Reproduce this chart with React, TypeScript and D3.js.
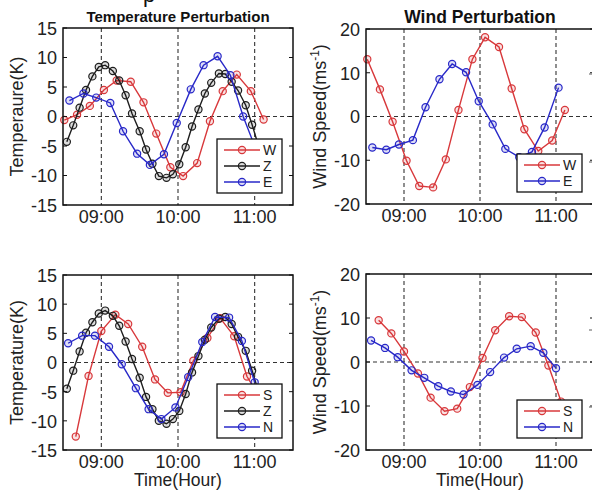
import React, { useEffect, useRef } from "react";
import * as d3 from "d3";

// sample times (clock) for each station series
const timesW = ["08:31", "08:41", "08:51", "09:02", "09:12", "09:23", "09:33", "09:43", "09:54", "10:04", "10:15", "10:25", "10:35", "10:46", "10:57", "11:07"];
const timesE = ["08:35", "08:46", "08:56", "09:07", "09:17", "09:28", "09:38", "09:49", "09:59", "10:10", "10:20", "10:31", "10:41", "10:51", "11:02"];
const timesZ = ["08:33", "08:38", "08:43", "08:48", "08:53", "08:58", "09:03", "09:09", "09:14", "09:19", "09:24", "09:30", "09:35", "09:40", "09:45", "09:51", "09:56", "10:01", "10:06", "10:11", "10:16", "10:21", "10:26", "10:32", "10:37", "10:42", "10:47", "10:53", "10:58", "11:03"];
const timesS = ["08:40", "08:50", "09:00", "09:11", "09:21", "09:32", "09:42", "09:52", "10:02", "10:12", "10:23", "10:33", "10:44", "10:54", "11:04"];
const timesN = ["08:34", "08:45", "08:55", "09:06", "09:16", "09:27", "09:37", "09:47", "09:58", "10:08", "10:19", "10:29", "10:40", "10:50", "11:00"];

// temperature perturbation (K)
const tempW = [-0.6, 0.3, 1.8, 4.5, 6.1, 5.9, 2.4, -2.9, -8.6, -10.1, -7.9, -0.8, 4.3, 7.1, 4.3, -0.5];
const tempZTop = [-4.3, -1.5, 1.5, 4.5, 6.8, 8.4, 8.7, 7.7, 6.1, 3.6, 0.5, -2.5, -5.6, -8.0, -10.1, -10.4, -9.8, -8.1, -5.2, -1.7, 1.2, 3.9, 5.7, 7.3, 7.2, 5.9, 4.4, 1.9, -1.4, -5.0];
const tempE = [2.7, 3.9, 3.2, 2.3, -2.5, -6.3, -8.2, -6.4, -1.1, 4.6, 8.7, 10.2, 7.0, 0.0, -6.1];
const tempS = [-12.7, -2.3, 5.4, 8.2, 6.6, 2.7, -2.9, -5.2, -5.1, 0.3, 4.2, 7.6, 4.5, -2.4, -6.0];
const tempZBottom = [-4.5, -1.4, 1.9, 5.1, 6.9, 8.4, 8.9, 8.0, 6.3, 3.6, 0.6, -2.6, -5.9, -8.0, -10.0, -10.5, -9.7, -8.3, -5.4, -1.7, 1.1, 3.9, 6.0, 7.5, 7.8, 6.6, 4.4, 2.0, -1.4, -5.0];
const tempN = [3.3, 4.6, 4.6, 2.7, -0.3, -4.4, -8.0, -9.7, -7.7, -2.5, 3.5, 7.8, 7.7, 3.7, -3.4];

// wind perturbation (m/s)
const windW = [13.1, 6.2, -1.2, -10.1, -15.9, -16.2, -9.8, 1.5, 13.1, 18.1, 15.9, 6.4, -2.9, -7.9, -5.5, 1.5];
const windE = [-7.1, -7.6, -6.4, -5.4, 2.1, 8.5, 12.0, 10.1, 3.5, -1.8, -7.4, -9.3, -8.1, -2.5, 6.6];
const windS = [9.5, 6.5, 2.4, -2.6, -8.1, -11.2, -10.6, -5.7, 0.9, 7.2, 10.4, 10.2, 6.7, -0.8, -9.0];
const windN = [4.9, 3.2, 1.1, -1.9, -3.6, -5.5, -6.7, -7.4, -5.2, -2.3, 1.0, 3.0, 3.6, 2.1, -1.4];

const tempTicks = [-15, -10, -5, 0, 5, 10, 15];
const windTicks = [-20, -10, 0, 10, 20];
const hourTicks = ["09:00", "10:00", "11:00"];
const timeRange = ["08:30", "11:30"];

const RED = "#d8383b";
const BLACK = "#1e1e1e";
const BLUE = "#2828c8";
const FONT = "'Liberation Sans', Arial, Helvetica, sans-serif";

const parseTime = d3.timeParse("%H:%M");

const App = () => {
    const container = useRef(null);

    useEffect(() => {
        const el = container.current;
        el.innerHTML = "";

        const svg = d3.select(el)
            .append("svg")
            .attr("width", 592)
            .attr("height", 493)
            .style("position", "absolute")
            .style("left", "0px")
            .style("top", "0px")
            .style("background", "#fff")
            .style("font-family", FONT);

        const panels = [
            {
                left: 63, right: 293, top: 28, bottom: 205,
                domain: [-15, 15], ticks: tempTicks,
                title: "Temperature Perturbation", titleSize: 15,
                ylabel: ["Temperaure(K)"], xlabel: null,
                series: [
                    { name: "W", times: timesW, values: tempW, color: RED },
                    { name: "Z", times: timesZ, values: tempZTop, color: BLACK },
                    { name: "E", times: timesE, values: tempE, color: BLUE },
                ],
            },
            {
                left: 366, right: 594, top: 29, bottom: 204,
                domain: [-20, 20], ticks: windTicks,
                title: "Wind Perturbation", titleSize: 17.5,
                ylabel: null, xlabel: null,
                series: [
                    { name: "W", times: timesW, values: windW, color: RED },
                    { name: "E", times: timesE, values: windE, color: BLUE },
                ],
            },
            {
                left: 63, right: 293, top: 275, bottom: 450,
                domain: [-15, 15], ticks: tempTicks,
                title: null, titleSize: 0,
                ylabel: ["Temperature(K)"], xlabel: "Time(Hour)",
                series: [
                    { name: "S", times: timesS, values: tempS, color: RED },
                    { name: "Z", times: timesZ, values: tempZBottom, color: BLACK },
                    { name: "N", times: timesN, values: tempN, color: BLUE },
                ],
            },
            {
                left: 366, right: 594, top: 274, bottom: 450,
                domain: [-20, 20], ticks: windTicks,
                title: null, titleSize: 0,
                ylabel: null, xlabel: "Time(Hour)",
                series: [
                    { name: "S", times: timesS, values: windS, color: RED },
                    { name: "N", times: timesN, values: windN, color: BLUE },
                ],
            },
        ];

        panels.forEach((p) => {
            const g = svg.append("g");
            const x = d3.scaleTime()
                .domain(timeRange.map(parseTime))
                .range([p.left, p.right]);
            const y = d3.scaleLinear()
                .domain(p.domain)
                .range([p.bottom, p.top]);

            // dashed reference lines
            g.selectAll(".vgrid")
                .data(hourTicks)
                .enter()
                .append("line")
                .attr("x1", (d) => x(parseTime(d)))
                .attr("x2", (d) => x(parseTime(d)))
                .attr("y1", p.top)
                .attr("y2", p.bottom)
                .attr("stroke", "#333")
                .attr("stroke-width", 1.1)
                .attr("stroke-dasharray", "4,3");
            g.append("line")
                .attr("x1", p.left)
                .attr("x2", p.right)
                .attr("y1", y(0))
                .attr("y2", y(0))
                .attr("stroke", "#333")
                .attr("stroke-width", 1.1)
                .attr("stroke-dasharray", "4,3");

            // series
            const line = d3.line()
                .x((d) => x(d.t))
                .y((d) => y(d.v));
            p.series.forEach((s) => {
                const pts = s.times.map((t, i) => ({ t: parseTime(t), v: s.values[i] }));
                g.append("path")
                    .datum(pts)
                    .attr("d", line)
                    .attr("fill", "none")
                    .attr("stroke", s.color)
                    .attr("stroke-width", 1.4);
                g.selectAll(null)
                    .data(pts)
                    .enter()
                    .append("circle")
                    .attr("cx", (d) => x(d.t))
                    .attr("cy", (d) => y(d.v))
                    .attr("r", 3.6)
                    .attr("fill", s.color)
                    .attr("fill-opacity", 0.15)
                    .attr("stroke", s.color)
                    .attr("stroke-width", 1.2);
            });

            // frame + inward ticks
            g.append("rect")
                .attr("x", p.left)
                .attr("y", p.top)
                .attr("width", p.right - p.left)
                .attr("height", p.bottom - p.top)
                .attr("fill", "none")
                .attr("stroke", "#111")
                .attr("stroke-width", 1.5);
            p.ticks.forEach((t) => {
                g.append("line").attr("x1", p.left).attr("x2", p.left + 4)
                    .attr("y1", y(t)).attr("y2", y(t)).attr("stroke", "#111");
                g.append("line").attr("x1", p.right - 4).attr("x2", p.right)
                    .attr("y1", y(t)).attr("y2", y(t)).attr("stroke", "#111");
                g.append("text")
                    .attr("x", p.left - 6)
                    .attr("y", y(t))
                    .attr("dy", "0.38em")
                    .attr("text-anchor", "end")
                    .attr("font-size", 18)
                    .attr("fill", "#222")
                    .text(t);
            });
            hourTicks.forEach((h) => {
                g.append("text")
                    .attr("x", x(parseTime(h)))
                    .attr("y", p.bottom + 17.5)
                    .attr("text-anchor", "middle")
                    .attr("font-size", 18)
                    .attr("fill", "#222")
                    .text(h);
            });

            if (p.title) {
                g.append("text")
                    .attr("x", (p.left + p.right) / 2)
                    .attr("y", p.top - 6)
                    .attr("text-anchor", "middle")
                    .attr("font-size", p.titleSize)
                    .attr("font-weight", "bold")
                    .attr("fill", "#111")
                    .text(p.title);
            }

            const yl = g.append("text")
                .attr("transform", `translate(${p.left - 40},${(p.top + p.bottom) / 2}) rotate(-90)`)
                .attr("text-anchor", "middle")
                .attr("font-size", 18)
                .attr("fill", "#222");
            if (p.ylabel) {
                yl.text(p.ylabel[0]);
            } else {
                yl.append("tspan").text("Wind Speed(ms");
                yl.append("tspan").attr("dy", -7).attr("font-size", 12).text("-1");
                yl.append("tspan").attr("dy", 7).text(")");
            }

            if (p.xlabel) {
                g.append("text")
                    .attr("x", x(parseTime("10:00")))
                    .attr("y", p.bottom + 36)
                    .attr("text-anchor", "middle")
                    .attr("font-size", 17.5)
                    .attr("fill", "#222")
                    .text(p.xlabel);
            }

            // legend
            const rowH = 16;
            const lw = 65;
            const lh = p.series.length * rowH + 6;
            const lx = (p.left < 300 ? p.right - 11 : p.right - 12) - lw;
            const ly = p.bottom - 12 - lh;
            const lg = g.append("g");
            lg.append("rect")
                .attr("x", lx)
                .attr("y", ly)
                .attr("width", lw)
                .attr("height", lh)
                .attr("fill", "#fff")
                .attr("stroke", "#111")
                .attr("stroke-width", 1.3);
            p.series.forEach((s, i) => {
                const ry = ly + 11 + i * rowH;
                lg.append("line")
                    .attr("x1", lx + 7).attr("x2", lx + 43)
                    .attr("y1", ry).attr("y2", ry)
                    .attr("stroke", s.color).attr("stroke-width", 1.4);
                lg.append("circle")
                    .attr("cx", lx + 25).attr("cy", ry).attr("r", 3.6)
                    .attr("fill", s.color).attr("fill-opacity", 0.15)
                    .attr("stroke", s.color).attr("stroke-width", 1.2);
                lg.append("text")
                    .attr("x", lx + 46)
                    .attr("y", ry)
                    .attr("dy", "0.36em")
                    .attr("font-size", 14)
                    .attr("fill", "#222")
                    .text(s.name);
            });
        });

        // fragments of a neighbouring figure cropped at the edges
        svg.append("text")
            .attr("x", 143)
            .attr("y", 2)
            .attr("font-size", 22)
            .attr("fill", "#111")
            .text("p");
        [74, 162, 330, 407].forEach((yy) => {
            svg.append("line")
                .attr("x1", 589).attr("x2", 592)
                .attr("y1", yy).attr("y2", yy)
                .attr("stroke", "#777").attr("stroke-width", 1.2);
        });
    }, []);

    return <div ref={container}></div>;
};

export default App;
